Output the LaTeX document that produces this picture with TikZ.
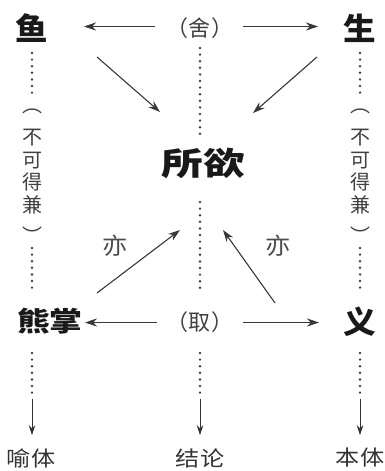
\documentclass[tikz,border=0pt]{standalone}
\usepackage{fontspec}
\usepackage{graphicx}
\newfontfamily\cjk{Noto Sans CJK SC}
\usetikzlibrary{arrows.meta,calc}
\newcommand\hs[2]{\scalebox{#1}[1]{#2}}
\begin{document}
\begin{tikzpicture}[x=1pt,y=-1pt,
  term/.style={inner sep=0pt, text=black!90, font=\cjk\bfseries\fontsize{#1}{#1}\selectfont},
  paren/.style={inner sep=0pt, text=black!75, font=\cjk\fontsize{22}{22}\selectfont},
  vtext/.style={inner sep=0pt, text=black!75, align=center, font=\cjk\fontsize{20}{22.5}\selectfont},
  side/.style={inner sep=0pt, text=black!70, font=\cjk\fontsize{23}{23}\selectfont},
  foot/.style={inner sep=0pt, text=black!80, font=\cjk\fontsize{21}{21}\selectfont},
  arr/.style={draw=black!78, line width=1.1pt, -{Stealth[length=12pt,width=8pt]}},
  downarr/.style={draw=black!80, line width=1pt, -{Stealth[length=10pt,width=6.5pt]}},
  dots/.style={draw=black!75, line width=2.7pt, line cap=round, dash pattern=on 0pt off 6.6pt},
]
\useasboundingbox (0,0) rectangle (385,471);

% top row
\node[term=31] (yu) at (32,28) {\hs{1.05}{鱼}};
\node[term=31] (sheng) at (360,28) {\hs{1.05}{生}};
\node[paren] (she) at (200,28) {（\kern1pt舍\kern1pt）};

% middle
\node[term=32] (suoyu) at (203,163) {\hs{1.3}{所欲}};
\node[vtext] (bukeL) at (32,176.5) {︵\\[9.5pt]不\\可\\得\\兼\\[9pt]︶};
\node[vtext] (bukeR) at (360,176.5) {︵\\[9.5pt]不\\可\\得\\兼\\[9pt]︶};
\node[side] (yiL) at (115,246) {\hs{1.1}{亦}};
\node[side] (yiR) at (278,246) {\hs{1.1}{亦}};

% bottom row
\node[term=27] (xz) at (50,321) {\hs{1.22}{熊掌}};
\node[term=31] (yi) at (360,322) {\hs{1.05}{义}};
\node[paren] (qu) at (200,322) {（\kern1pt取\kern1pt）};

% foot labels
\node[foot] (yuti) at (31,458) {\hs{1.15}{喻体}};
\node[foot] (jielun) at (200,458) {\hs{1.15}{结论}};
\node[foot] (benti) at (360,458) {\hs{1.15}{本体}};

% horizontal arrows
\draw[arr] ($(she)+(-45,-1.5)$) -- ($(yu)+(52,-1.5)$);
\draw[arr] ($(she)+(43,-1.5)$) -- ($(sheng)+(-42,-1.5)$);
\draw[arr] ($(qu)+(-43,0.5)$) -- ($(xz)+(35,1.5)$);
\draw[arr] ($(qu)+(43,0.5)$) -- ($(yi)+(-41,0.5)$);

% diagonal arrows
\draw[arr] ($(yu)+(65,29)$) -- ($(suoyu)+(-43,-51)$);
\draw[arr] ($(sheng)+(-43,29)$) -- ($(suoyu)+(50,-50)$);
\draw[arr] ($(xz)+(47,-28)$) -- ($(suoyu)+(-23,67)$);
\draw[arr] ($(yi)+(-85,-19)$) -- ($(suoyu)+(20,67)$);

% dotted columns: left
\draw[dots] ($(yu)+(0,25)$) -- ($(bukeL)+(0,-83.5)$);
\draw[dots] ($(bukeL)+(0,71.5)$) -- ($(bukeL |- xz)+(0,-31)$);
\draw[dots] ($(bukeL |- xz)+(0,32)$) -- ($(yuti.north -| bukeL)+(0,-53)$);
\draw[downarr] ($(yuti.north -| bukeL)+(0,-49)$) -- ($(yuti.north -| bukeL)+(0,-13)$);

% centre
\draw[dots] ($(she)+(0,20)$) -- ($(she |- suoyu)+(0,-26)$);
\draw[dots] ($(she |- suoyu)+(0,39)$) -- ($(qu)+(0,-32)$);
\draw[dots] ($(qu)+(0,31)$) -- ($(jielun.north)+(0,-53)$);
\draw[downarr] ($(jielun.north)+(0,-49)$) -- ($(jielun.north)+(0,-13)$);

% right
\draw[dots] ($(sheng)+(0,25)$) -- ($(bukeR)+(0,-83.5)$);
\draw[dots] ($(bukeR)+(0,71.5)$) -- ($(yi)+(0,-32)$);
\draw[dots] ($(yi)+(0,31)$) -- ($(benti.north)+(0,-53)$);
\draw[downarr] ($(benti.north)+(0,-49)$) -- ($(benti.north)+(0,-13)$);
\end{tikzpicture}
\end{document}
